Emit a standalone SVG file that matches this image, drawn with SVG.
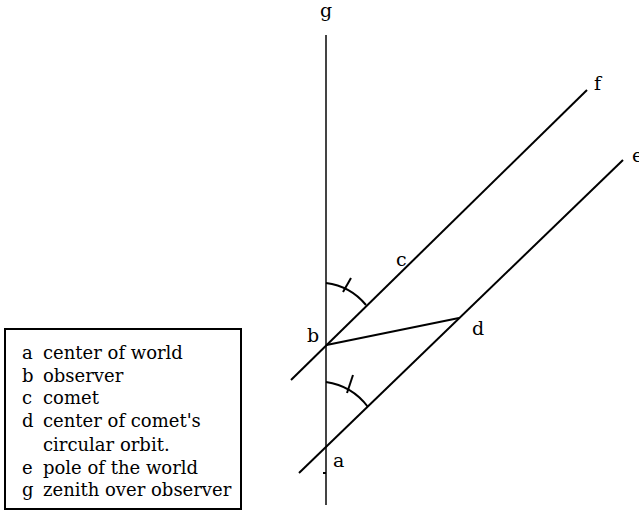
<svg xmlns="http://www.w3.org/2000/svg" width="639" height="510" viewBox="0 0 639 510">
<style>
.ln{stroke:#000;stroke-width:2;fill:none}
.ax{stroke:#444;stroke-width:2;fill:none}
.lbl{font-family:'DejaVu Serif',serif;font-size:19px;fill:#000}
.leg{font-family:'DejaVu Serif',serif;font-size:18px;fill:#000}
</style>
<rect width="639" height="510" fill="#fff"/>
<g id="connectors">
<line class="ax" x1="326" y1="35" x2="326" y2="505"/>
<line class="ln" x1="291" y1="380" x2="587" y2="90"/>
<line class="ln" x1="299" y1="473" x2="623" y2="160"/>
<line class="ln" x1="326.5" y1="345" x2="459" y2="318"/>
<path class="ln" d="M326,283 A62,62 0 0 1 366,305"/>
<line class="ln" x1="343" y1="292" x2="351" y2="278"/>
<path class="ln" d="M326,382 A64,64 0 0 1 368,407"/>
<line class="ln" x1="347" y1="393" x2="353" y2="375"/>
<line class="ln" x1="323" y1="473" x2="326" y2="473"/>
</g>
<g id="g"><text class="lbl" x="326" y="17" text-anchor="middle">g</text></g>
<g id="f"><text class="lbl" x="594" y="90">f</text></g>
<g id="e"><text class="lbl" x="632" y="162">e</text></g>
<g id="c"><text class="lbl" x="396" y="266">c</text></g>
<g id="b"><text class="lbl" x="307" y="342">b</text></g>
<g id="d"><text class="lbl" x="472" y="335">d</text></g>
<g id="a"><text class="lbl" x="333" y="467">a</text></g>
<g id="legend">
<rect x="5" y="329" width="236" height="180" fill="none" stroke="#000" stroke-width="2"/>
<text class="leg" x="22" y="359">a</text><text class="leg" x="43" y="359">center of world</text>
<text class="leg" x="22" y="382">b</text><text class="leg" x="43" y="382">observer</text>
<text class="leg" x="22" y="404">c</text><text class="leg" x="43" y="404">comet</text>
<text class="leg" x="22" y="427">d</text><text class="leg" x="43" y="427">center of comet's</text>
<text class="leg" x="43" y="451">circular orbit.</text>
<text class="leg" x="22" y="474">e</text><text class="leg" x="43" y="474">pole of the world</text>
<text class="leg" x="22" y="496">g</text><text class="leg" x="43" y="496">zenith over observer</text>
</g>
</svg>
